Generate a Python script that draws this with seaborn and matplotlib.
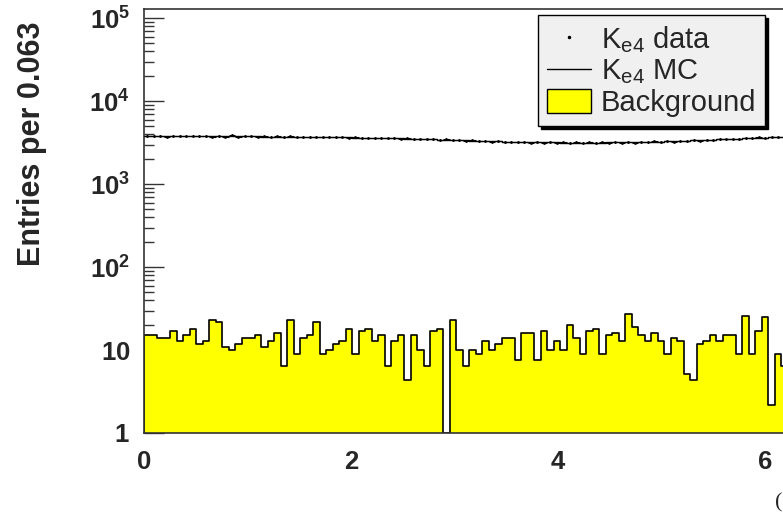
import numpy as np
import pandas as pd
import matplotlib
matplotlib.use("Agg")
import matplotlib.pyplot as plt
from matplotlib.lines import Line2D
from matplotlib.patches import Patch
from matplotlib.ticker import LogLocator, NullFormatter
import seaborn as sns

sns.set_theme(style="white")
plt.rcParams['font.family'] = ['Liberation Sans', 'DejaVu Sans']
plt.rcParams['mathtext.fontset'] = 'custom'
plt.rcParams['mathtext.rm'] = 'Liberation Sans'
plt.rcParams['mathtext.bf'] = 'Liberation Sans:bold'
plt.rcParams['mathtext.default'] = 'regular'

# 100 bins of width 0.063 over [0, 2pi]
n_bins = 100
x_max = 2 * np.pi

# background counts per bin
bkg = [15, 15, 14, 14, 17, 13, 15, 18, 12, 13,
       23, 22, 11, 10, 12, 14, 14, 15, 11, 13,
       16, 6.5, 23, 9, 14, 15, 22, 9, 10, 12,
       13, 18, 9, 17, 18, 13, 15, 6.5, 13, 15,
       4.4, 15, 10, 6.5, 17, 18, 1, 23, 10, 6.5,
       10, 9, 13, 10, 12, 14, 14, 7.5, 16, 16,
       7.5, 17, 10, 13, 10, 20, 14, 9, 17, 18,
       9, 15, 16, 13, 27, 19, 15, 13, 16, 13,
       9, 14, 13, 5.2, 4.4, 12, 13, 15, 13, 15,
       15, 9, 26, 9, 17, 25, 2.2, 9, 6.5, 10]

# Ke4 Monte Carlo
mc = [3830, 3825, 3820, 3815, 3815, 3810, 3805, 3800, 3800, 3795,
      3790, 3790, 3785, 3780, 3780, 3775, 3770, 3770, 3765, 3760,
      3755, 3750, 3745, 3740, 3735, 3730, 3720, 3710, 3700, 3690,
      3680, 3670, 3660, 3650, 3640, 3625, 3610, 3595, 3580, 3565,
      3550, 3535, 3520, 3500, 3480, 3460, 3440, 3420, 3400, 3380,
      3360, 3340, 3320, 3300, 3280, 3260, 3245, 3230, 3215, 3205,
      3200, 3195, 3190, 3190, 3185, 3185, 3185, 3180, 3180, 3185,
      3185, 3190, 3190, 3195, 3200, 3210, 3220, 3235, 3250, 3270,
      3290, 3310, 3330, 3355, 3380, 3405, 3430, 3455, 3480, 3505,
      3530, 3560, 3590, 3615, 3640, 3660, 3680, 3700, 3715, 3730]

# Ke4 data
data = [3870, 3790, 3850, 3760, 3840, 3820, 3770, 3835, 3780, 3810,
        3760, 3820, 3750, 3900, 3740, 3800, 3790, 3730, 3780, 3740,
        3790, 3720, 3770, 3700, 3760, 3710, 3750, 3680, 3730, 3670,
        3700, 3640, 3690, 3620, 3660, 3600, 3640, 3570, 3610, 3540,
        3580, 3500, 3550, 3470, 3510, 3430, 3470, 3390, 3430, 3360,
        3390, 3310, 3350, 3270, 3310, 3230, 3270, 3200, 3240, 3180,
        3230, 3170, 3220, 3160, 3210, 3150, 3200, 3160, 3210, 3150,
        3210, 3160, 3220, 3170, 3230, 3180, 3250, 3200, 3280, 3240,
        3320, 3270, 3360, 3320, 3410, 3370, 3460, 3420, 3510, 3480,
        3560, 3520, 3620, 3580, 3670, 3630, 3710, 3670, 3740, 3700]

y_ticks = [1, 10, 100, 1e3, 1e4, 1e5]
y_tick_labels = [r"$\mathbf{1}$", r"$\mathbf{10}$", r"$\mathbf{10^{2}}$",
                 r"$\mathbf{10^{3}}$", r"$\mathbf{10^{4}}$", r"$\mathbf{10^{5}}$"]
x_ticks = [0, 2, 4, 6]

edges = np.linspace(0, x_max, n_bins + 1)
centers = 0.5 * (edges[:-1] + edges[1:])
half_w = 0.5 * (edges[1] - edges[0])
df = pd.DataFrame({"phi": centers, "bkg": bkg, "mc": mc, "data": data})

fig = plt.figure(figsize=(7.83, 5.15), dpi=100)
# the original frame runs past the right edge of the picture
ax = fig.add_axes([144 / 783, 82 / 515, 650.3 / 783, 424 / 515])

# background histogram (yellow, black outline)
sns.histplot(data=df, x="phi", weights="bkg", bins=list(edges), element="step",
             fill=True, color="#ffff00", alpha=1, edgecolor="black", linewidth=1.2, ax=ax)
# MC histogram
sns.histplot(data=df, x="phi", weights="mc", bins=list(edges), element="step",
             fill=False, color="black", linewidth=1.0, ax=ax)
# data points with errors
ax.errorbar(df["phi"], df["data"], xerr=half_w, yerr=np.sqrt(df["data"]), fmt='.',
            color='black', markersize=2, elinewidth=0.8, capsize=0, zorder=5)

ax.set_yscale('log')
ax.set_xlim(0, x_max)
ax.set_ylim(1, 1.3e5)
ax.set_yticks(y_ticks, labels=y_tick_labels)
ax.yaxis.set_minor_locator(LogLocator(base=10, subs=np.arange(2, 10), numticks=20))
ax.yaxis.set_minor_formatter(NullFormatter())
ax.set_xticks(x_ticks, labels=[str(t) for t in x_ticks])

ax.tick_params(axis='y', which='major', direction='in', length=14.4, width=1,
               color='#333333', labelsize=18.5, pad=10, left=True, right=False)
ax.tick_params(axis='y', which='minor', direction='in', length=7.2, width=1,
               color='#333333', left=True, right=False)
ax.tick_params(axis='x', length=0, labelsize=18.5, pad=12)
for lab in ax.get_xticklabels():
    lab.set_fontweight('bold')

for side in ['left', 'top', 'right', 'bottom']:
    ax.spines[side].set_color('#333333')
    ax.spines[side].set_linewidth(1.2)

ax.set_xlabel("")
ax.set_ylabel("Entries per 0.063", fontsize=22, fontweight='bold')
ax.yaxis.set_label_coords(-0.149, 0.682)

handles = [Line2D([], [], ls='none', marker='.', ms=3, color='black'),
           Line2D([], [], color='black', lw=1),
           Patch(facecolor='#ffff00', edgecolor='black', lw=1)]
labels = [r"K$_{e4}$ data", r"K$_{e4}$ MC", "Background"]
ax.legend(handles, labels, loc='upper left', bbox_to_anchor=(538 / 783, 1 - 15 / 515),
          bbox_transform=fig.transFigure, borderaxespad=0, frameon=True, fancybox=False,
          shadow={'color': 'black', 'alpha': 1}, facecolor='#f0f0f0', edgecolor='black',
          framealpha=1, prop={'size': 21}, handlelength=1.5, handletextpad=0.35,
          borderpad=0.3, labelspacing=0.1, handleheight=0.85)

# start of the axis title, which runs past the right edge of the picture
fig.text(782 / 783, 1 - 503 / 515, "(", family=['Liberation Serif'], fontsize=16,
         ha='right', va='center')

fig.savefig("out.png", dpi=100)
